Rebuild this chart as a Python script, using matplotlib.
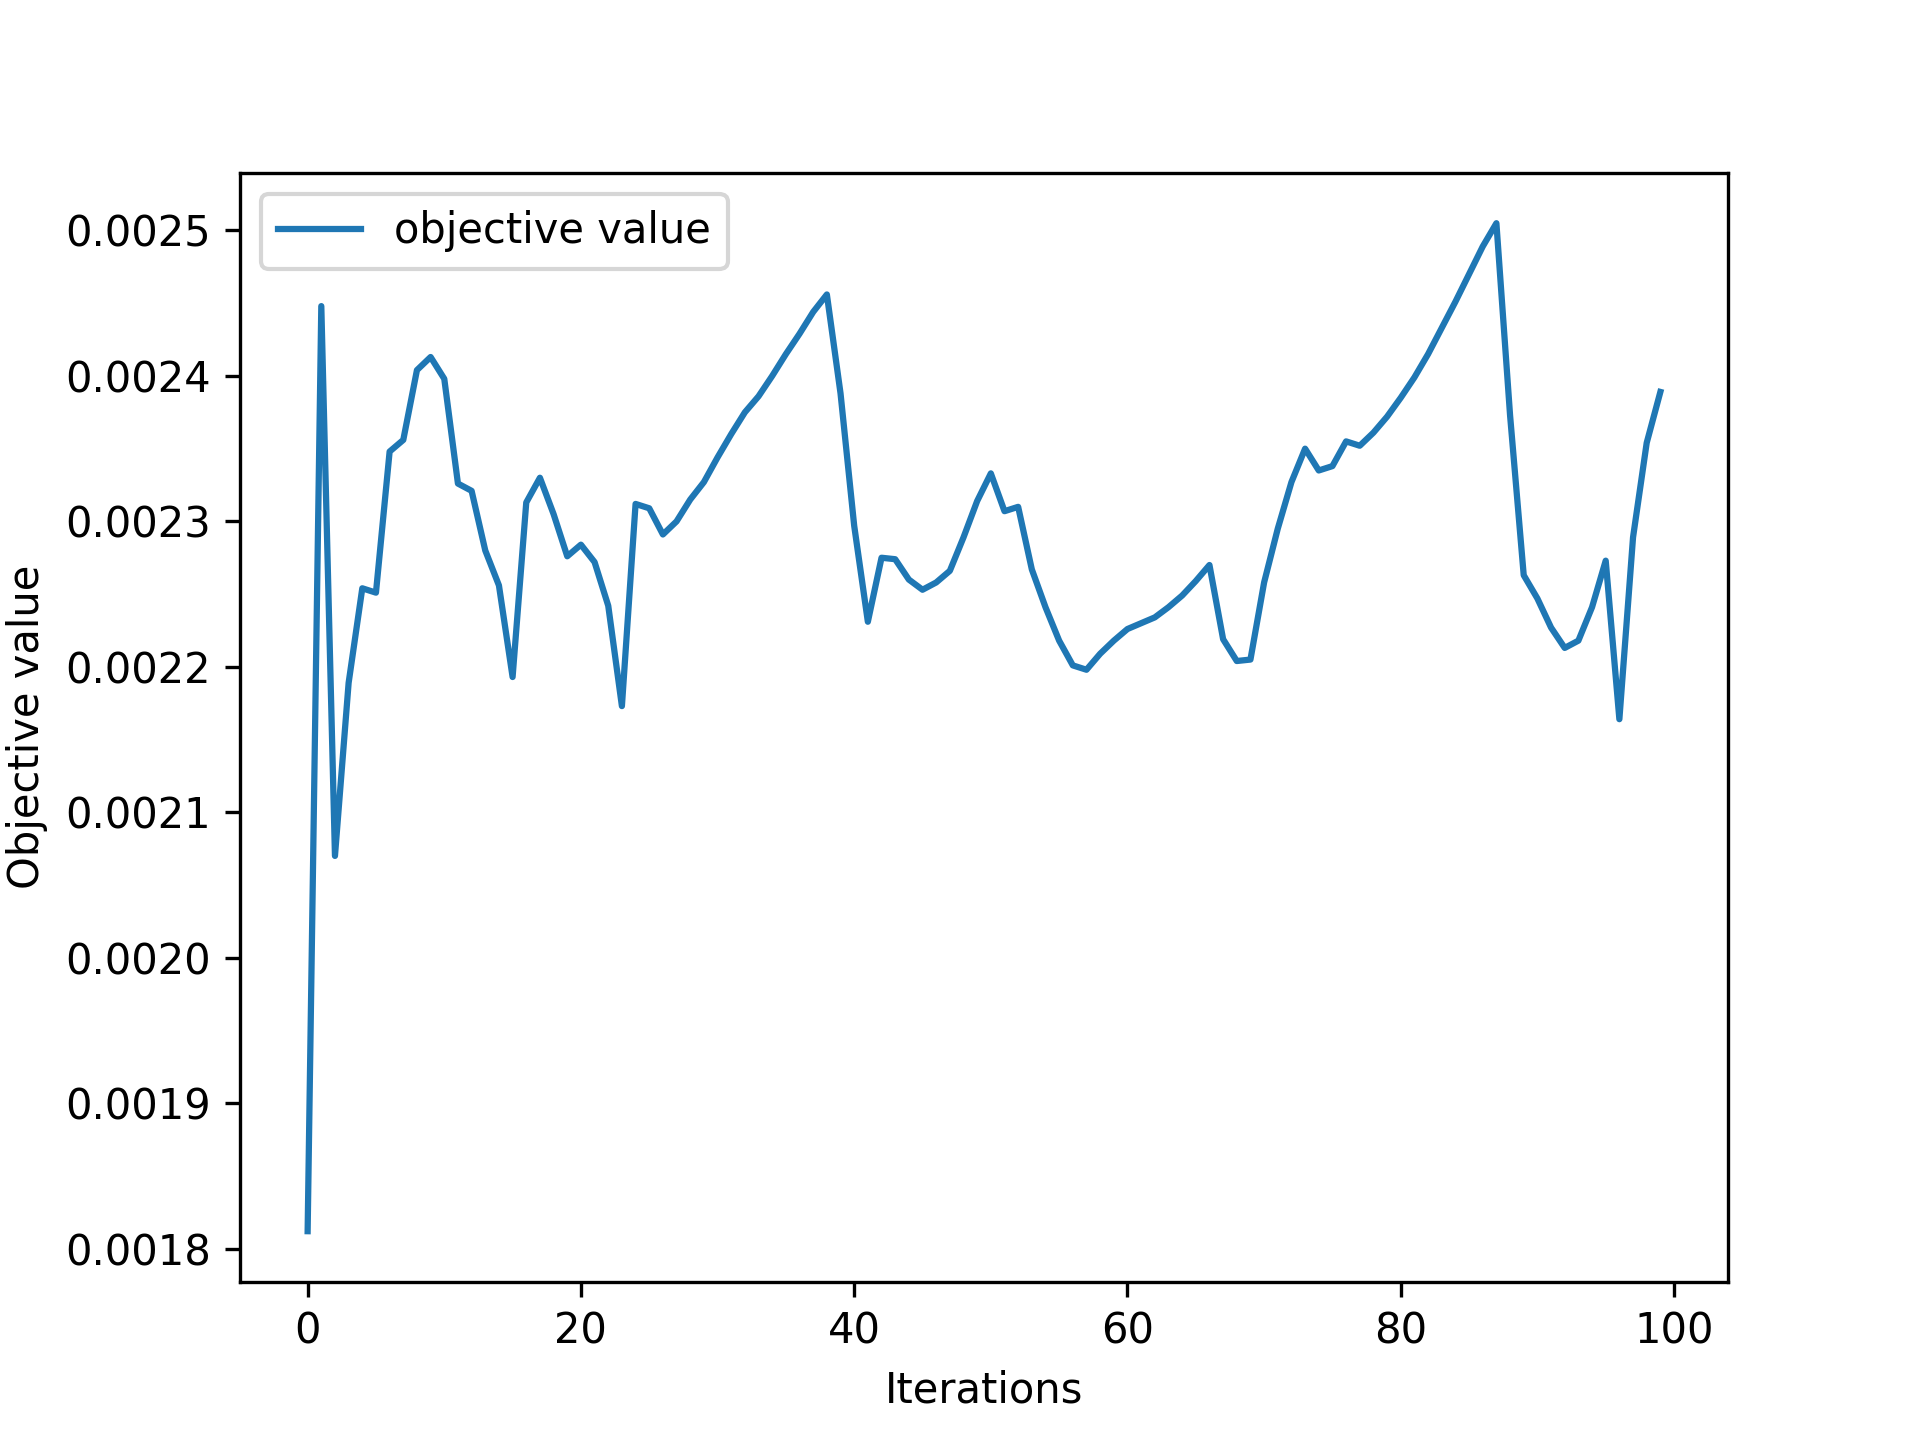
import numpy as np
import matplotlib
matplotlib.use('Agg')
import matplotlib.pyplot as plt

# objective value per iteration
objective = [
    0.001812, 0.002448, 0.002070, 0.002189, 0.002254, 0.002251, 0.002348, 0.002356, 0.002404, 0.002413,
    0.002398, 0.002326, 0.002321, 0.002280, 0.002256, 0.002193, 0.002313, 0.002330, 0.002305, 0.002276,
    0.002284, 0.002272, 0.002242, 0.002173, 0.002312, 0.002309, 0.002291, 0.002300, 0.002315, 0.002327,
    0.002344, 0.002360, 0.002375, 0.002386, 0.002400, 0.002415, 0.002429, 0.002444, 0.002456, 0.002388,
    0.002297, 0.002231, 0.002275, 0.002274, 0.002260, 0.002253, 0.002258, 0.002266, 0.002289, 0.002314,
    0.002333, 0.002307, 0.002310, 0.002267, 0.002241, 0.002218, 0.002201, 0.002198, 0.002209, 0.002218,
    0.002226, 0.002230, 0.002234, 0.002241, 0.002249, 0.002259, 0.002270, 0.002219, 0.002204, 0.002205,
    0.002258, 0.002295, 0.002327, 0.002350, 0.002335, 0.002338, 0.002355, 0.002352, 0.002361, 0.002372,
    0.002385, 0.002399, 0.002415, 0.002433, 0.002451, 0.002470, 0.002489, 0.002505, 0.002373, 0.002263,
    0.002247, 0.002227, 0.002213, 0.002218, 0.002241, 0.002273, 0.002164, 0.002289, 0.002354, 0.002389,
]
iterations = np.arange(len(objective))

fig, ax = plt.subplots(figsize=(6.4, 4.8), dpi=300)
ax.plot(iterations, objective, label='objective value')
ax.set_xlabel('Iterations')
ax.set_ylabel('Objective value')
ax.legend(loc='upper left')

plt.savefig('out.png', dpi=300)
